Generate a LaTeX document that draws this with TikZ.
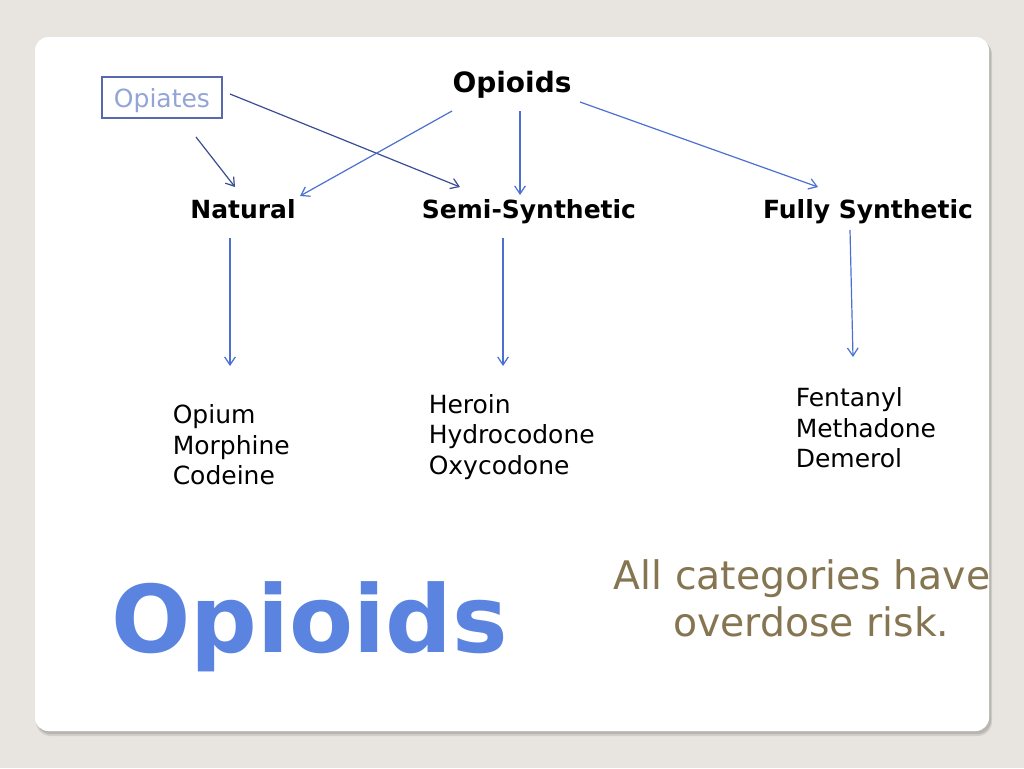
\documentclass[tikz,border=0pt]{standalone}
\usepackage{fontspec}
\setmainfont{DejaVu Sans}
\usetikzlibrary{arrows.meta, positioning, calc}
\definecolor{slideBg}{HTML}{E8E4DF}
\definecolor{cardShade}{HTML}{A9A7A3}
\definecolor{arrowBlue}{HTML}{4A70D0}
\definecolor{arrowNavy}{HTML}{3C4C94}
\definecolor{opiFrame}{HTML}{5A68AE}
\definecolor{opiText}{HTML}{93A5D6}
\definecolor{bigBlue}{HTML}{5A84E0}
\definecolor{noteOlive}{HTML}{857550}

\begin{document}
\begin{tikzpicture}[x=0.75pt, y=-0.75pt,
    head/.style={anchor=base, inner sep=0pt,
                 font=\fontsize{18.75}{22}\selectfont\bfseries},
    drugs/.style={anchor=west, align=left, inner sep=0pt,
                  font=\fontsize{18.75}{22.9}\selectfont},
    link/.style={-{Straight Barb[length=6pt,width=8pt]}, line width=0.9pt, arrowBlue},
    opilink/.style={link, arrowNavy},
  ]
    % slide and card
    \fill[slideBg] (0,0) rectangle (1024,768);
    \useasboundingbox (0,0) rectangle (1024,768);
    \fill[cardShade, opacity=0.35, rounded corners=11pt] (36,40) rectangle (992,736);
    \fill[cardShade, opacity=0.6, rounded corners=10pt] (37,40) rectangle (991,734);
    \fill[white, rounded corners=10pt] (35,37) rectangle (989,731);

    % headings
    \node[head, font=\fontsize{21}{24}\selectfont\bfseries] (opioids) at (512,92) {Opioids};
    \node[draw=opiFrame, line width=0.8pt, text=opiText, minimum width=90pt,
          minimum height=30.75pt, text depth=0pt, inner sep=0pt,
          font=\fontsize{18.75}{22}\selectfont] (opiates) at (162,97.5) {Opiates};
    \node[head] (natural) at (243,218) {Natural};
    \node[head] (semi) at (529,218) {Semi-Synthetic};
    \node[head] (fully) at (868,218) {Fully Synthetic};

    % drug lists
    \node[drugs] (natlist) at (172.5,445) {Opium\\Morphine\\Codeine};
    \node[drugs] (semilist) at (428.5,437) {Heroin\\Hydrocodone\\Oxycodone};
    \node[drugs] (fullylist) at (795.5,428) {Fentanyl\\Methadone\\Demerol};

    % big title and note
    \node[anchor=base west, inner sep=0pt, text=bigBlue,
          font=\fontsize{70}{72}\selectfont\bfseries] (big) at (111,652) {Opioids};
    \node[align=center, text=noteOlive, inner sep=0pt,
          font=\fontsize{29.5}{35.5}\selectfont] (note) at (802,598)
      {All categories have\\\hspace*{14pt}overdose risk.};

    % Arrows
    \draw[opilink] ($(opiates)+(34,39.5)$) -- ($(natural.base)+(-8,-31)$);
    \draw[opilink] ($(opiates)+(68,-3.5)$) -- ($(semi.base)+(-69,-31)$);
    \draw[link] ($(opioids.base)+(-60,19)$) -- ($(natural.base)+(57,-22)$);
    \draw[link] ($(opioids.base)+(8,19)$) -- ($(semi.base)+(-9,-23)$);
    \draw[link] ($(opioids.base)+(68,10)$) -- ($(fully.base)+(-50,-31)$);
    \draw[link] ($(natural.base)+(-13,20)$) -- ($(natlist.west)+(57.5,-79)$);
    \draw[link] ($(semi.base)+(-26,20)$) -- ($(semilist.west)+(74.5,-71)$);
    \draw[link] ($(fully.base)+(-18,12)$) -- ($(fullylist.west)+(57.5,-71)$);
  \end{tikzpicture}
\end{document}
